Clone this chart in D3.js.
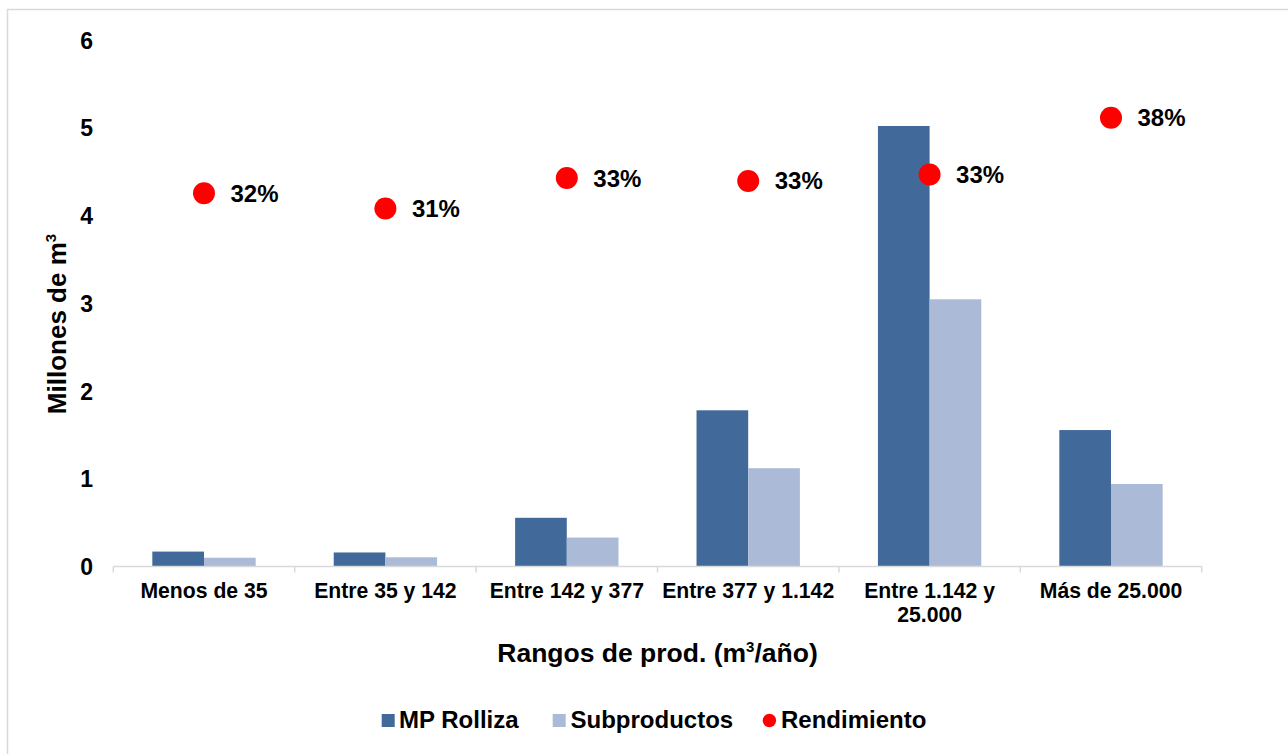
<!DOCTYPE html>
<html>
<head>
<meta charset="utf-8">
<script src="https://cdn.jsdelivr.net/npm/d3@7"></script>
<style>
  html, body { margin: 0; padding: 0; background: #fff; }
  svg text { font-family: "Liberation Sans", Arial, sans-serif; font-weight: bold; fill: #000; }
</style>
</head>
<body>
<svg id="chart" width="1288" height="754"></svg>
<script>
// ---- data ----
const categories = ["Menos de 35", "Entre 35 y 142", "Entre 142 y 377", "Entre 377 y 1.142", "Entre 1.142 y 25.000", "Más de 25.000"];
const categoryLines = [["Menos de 35"], ["Entre 35 y 142"], ["Entre 142 y 377"], ["Entre 377 y 1.142"], ["Entre 1.142 y", "25.000"], ["Más de 25.000"]];
const mpRolliza = [0.17, 0.16, 0.555, 1.78, 5.02, 1.555];
const subproductos = [0.10, 0.105, 0.33, 1.12, 3.045, 0.94];
const rendimiento = [0.319, 0.306, 0.332, 0.3295, 0.335, 0.3836];
const rendimientoLabels = ["32%", "31%", "33%", "33%", "33%", "38%"];
const yTicks = [0, 1, 2, 3, 4, 5, 6];
const seriesNames = ["MP Rolliza", "Subproductos"];

const colors = { "MP Rolliza": "#416a9b", "Subproductos": "#aabad7", "Rendimiento": "#ff0000" };

const svg = d3.select("#chart");

// outer border
svg.append("rect").attr("x", 7.5).attr("y", 9.5).attr("width", 1300).attr("height", 760)
  .attr("fill", "none").attr("stroke", "#d9d9d9").attr("stroke-width", 1.5);

const plotLeft = 113.3, plotRight = 1201.7, plotTop = 40, plotBottom = 566.5;

const x0 = d3.scaleBand().domain(categories).range([plotLeft, plotRight]).padding(0);
const x1 = d3.scaleBand().domain(seriesNames).range([0, x0.bandwidth()]).paddingInner(0).paddingOuter(0.755);
const y = d3.scaleLinear().domain([0, 6]).range([plotBottom, plotTop]);
const y2 = d3.scaleLinear().domain([0, 0.45]).range([plotBottom, plotTop]); // hidden secondary axis

// bars
const g = svg.append("g");
categories.forEach((c, i) => {
  const vals = [mpRolliza[i], subproductos[i]];
  seriesNames.forEach((s, j) => {
    g.append("rect")
      .attr("x", x0(c) + x1(s))
      .attr("y", y(vals[j]))
      .attr("width", x1.bandwidth())
      .attr("height", y(0) - y(vals[j]))
      .attr("fill", colors[s]);
  });
});

// x axis
const xAxis = svg.append("g").attr("transform", `translate(0,${plotBottom})`);
xAxis.append("line").attr("x1", plotLeft).attr("x2", plotRight).attr("y1", 0).attr("y2", 0)
  .attr("stroke", "#d9d9d9").attr("stroke-width", 1.5);
const boundaries = categories.map(c => x0(c)).concat([plotRight]);
boundaries.forEach(b => {
  xAxis.append("line").attr("x1", b).attr("x2", b).attr("y1", 0).attr("y2", 6)
    .attr("stroke", "#d9d9d9").attr("stroke-width", 1.5);
});
categories.forEach((c, i) => {
  const t = xAxis.append("text").attr("text-anchor", "middle").attr("font-size", "21.2px")
    .attr("x", x0(c) + x0.bandwidth() / 2).attr("y", 31);
  categoryLines[i].forEach((ln, k) => {
    t.append("tspan").attr("x", x0(c) + x0.bandwidth() / 2).attr("dy", k === 0 ? 0 : 24).text(ln);
  });
});

// y axis (labels only)
const yAxis = svg.append("g").attr("transform", `translate(93,0)`)
  .call(d3.axisLeft(y).tickValues(yTicks).tickSize(0).tickPadding(0).tickFormat(d3.format("d")));
yAxis.select(".domain").remove();
yAxis.selectAll("text").attr("font-size", "23px").attr("font-family", null).attr("fill", "#000")
  .attr("dy", "0.35em");

// points
const pts = svg.append("g");
categories.forEach((c, i) => {
  const cx = x0(c) + x0.bandwidth() / 2;
  const cy = y2(rendimiento[i]);
  pts.append("circle").attr("cx", cx).attr("cy", cy).attr("r", 11).attr("fill", colors["Rendimiento"]);
  pts.append("text").attr("x", cx + 26.5).attr("y", cy + 8.5).attr("font-size", "24px").text(rendimientoLabels[i]);
});

// axis titles
const xt = svg.append("text").attr("x", (plotLeft + plotRight) / 2).attr("y", 662).attr("text-anchor", "middle")
  .attr("font-size", "26.5px");
xt.append("tspan").text("Rangos de prod. (m");
xt.append("tspan").attr("font-size", "15px").attr("dy", -10).text("3");
xt.append("tspan").attr("dy", 10).text("/año)");

const yt = svg.append("text").attr("transform", "translate(66,324) rotate(-90)").attr("text-anchor", "middle")
  .attr("font-size", "26px");
yt.append("tspan").text("Millones de m");
yt.append("tspan").attr("font-size", "15px").attr("dy", -10).text("3");

// legend
const leg = svg.append("g");
const legItems = [
  { name: "MP Rolliza", type: "rect", mx: 381.7, tx: 399 },
  { name: "Subproductos", type: "rect", mx: 552.7, tx: 570.5 },
  { name: "Rendimiento", type: "circle", mx: 762.7, tx: 781 }
];
legItems.forEach(it => {
  if (it.type === "rect") {
    leg.append("rect").attr("x", it.mx).attr("y", 714).attr("width", 13).attr("height", 13).attr("fill", colors[it.name]);
  } else {
    leg.append("circle").attr("cx", it.mx + 6.7).attr("cy", 720.5).attr("r", 6.7).attr("fill", colors[it.name]);
  }
  leg.append("text").attr("x", it.tx).attr("y", 728).attr("font-size", "24px").text(it.name);
});
</script>
</body>
</html>
